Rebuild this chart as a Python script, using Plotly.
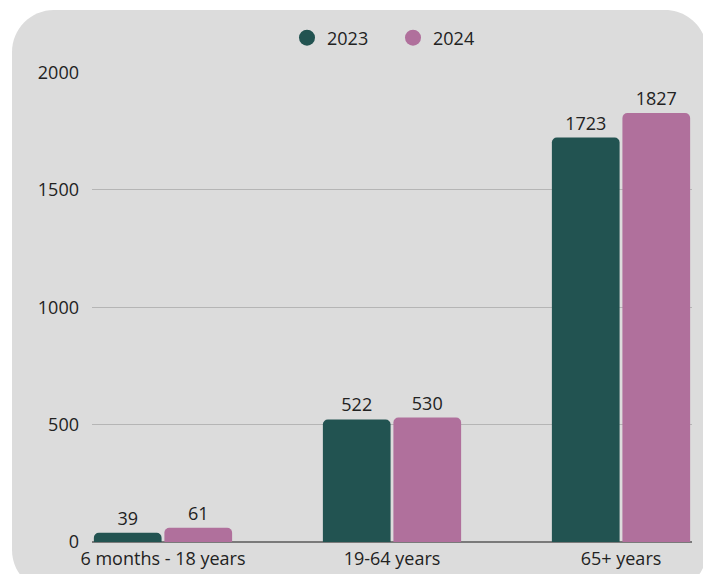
import plotly.graph_objects as go

categories = ["6 months - 18 years", "19-64 years", "65+ years"]
values_2023 = [39, 522, 1723]
values_2024 = [61, 530, 1827]
series_names = ["2023", "2024"]
y_ticks = [0, 500, 1000, 1500, 2000]

COLORS = {"2023": "#225351", "2024": "#b0709c"}
FONT = "Open Sans"
FS = 18

# the page puts the figure 8px in from the top-left corner, so pixel
# positions below are screen positions minus 8
OFF = 8
L, R, T, B = 92 - OFF, 692 - OFF, 72 - OFF, 542 - OFF
W, H = 711, 574


def px(x):
    return (x - OFF - L) / (R - L)


def py(y):
    return (B - (y - OFF)) / (B - T)


def card_path(x0, y0, x1, y1, r):
    k = 0.5523 * r
    pts = [
        f"M {px(x0 + r)} {py(y0)}",
        f"L {px(x1 - r)} {py(y0)}",
        f"C {px(x1 - r + k)} {py(y0)} {px(x1)} {py(y0 + r - k)} {px(x1)} {py(y0 + r)}",
        f"L {px(x1)} {py(y1 - r)}",
        f"C {px(x1)} {py(y1 - r + k)} {px(x1 - r + k)} {py(y1)} {px(x1 - r)} {py(y1)}",
        f"L {px(x0 + r)} {py(y1)}",
        f"C {px(x0 + r - k)} {py(y1)} {px(x0)} {py(y1 - r + k)} {px(x0)} {py(y1 - r)}",
        f"L {px(x0)} {py(y0 + r)}",
        f"C {px(x0)} {py(y0 + r - k)} {px(x0 + r - k)} {py(y0)} {px(x0 + r)} {py(y0)}",
        "Z",
    ]
    return " ".join(pts)


fig = go.Figure()

for name, vals in zip(series_names, [values_2023, values_2024]):
    fig.add_trace(go.Bar(
        x=categories,
        y=vals,
        name=name,
        marker=dict(color=COLORS[name], cornerradius=5, line=dict(width=0)),
        text=[str(v) for v in vals],
        textposition="outside",
        textfont=dict(size=FS, color="#222222", family=FONT),
        cliponaxis=False,
        showlegend=False,
    ))

# circle markers for the legend
for name in series_names:
    fig.add_trace(go.Scatter(
        x=[None], y=[None],
        mode="markers",
        name=name,
        marker=dict(color=COLORS[name], size=19, symbol="circle"),
    ))

fig.add_shape(
    type="path",
    xref="paper", yref="paper",
    path=card_path(12, 10, 707, 592, 42),
    fillcolor="#dcdcdc",
    line=dict(width=0),
    layer="below",
)

fig.update_layout(
    width=W,
    height=H,
    barmode="group",
    bargap=0.384,
    bargroupgap=0.04,
    paper_bgcolor="white",
    plot_bgcolor="rgba(0,0,0,0)",
    font=dict(family=FONT, size=FS, color="#222222"),
    margin=dict(l=L, r=W - R, t=T, b=H - B, autoexpand=False),
    legend=dict(
        orientation="h",
        x=(307 - OFF - 20) / W, xanchor="left", xref="container",
        y=1 - (38 - OFF) / H, yanchor="middle", yref="container",
        font=dict(size=FS, color="#222222"),
        bgcolor="rgba(0,0,0,0)",
        itemwidth=30,
        entrywidth=61,
        entrywidthmode="pixels",
    ),
    xaxis=dict(
        range=[-0.31, 2.31],
        showgrid=False,
        showline=False,
        zeroline=False,
        ticks="",
        ticklabelstandoff=4,
        tickfont=dict(size=FS),
    ),
    yaxis=dict(
        range=[0, 2002],
        tickvals=y_ticks,
        showgrid=True,
        gridcolor="#b5b5b5",
        gridwidth=1,
        zeroline=True,
        zerolinecolor="#7a7a7a",
        zerolinewidth=1.5,
        ticks="",
        ticklabelstandoff=12,
        tickfont=dict(size=FS),
    ),
)

fig.write_html("out.html")
